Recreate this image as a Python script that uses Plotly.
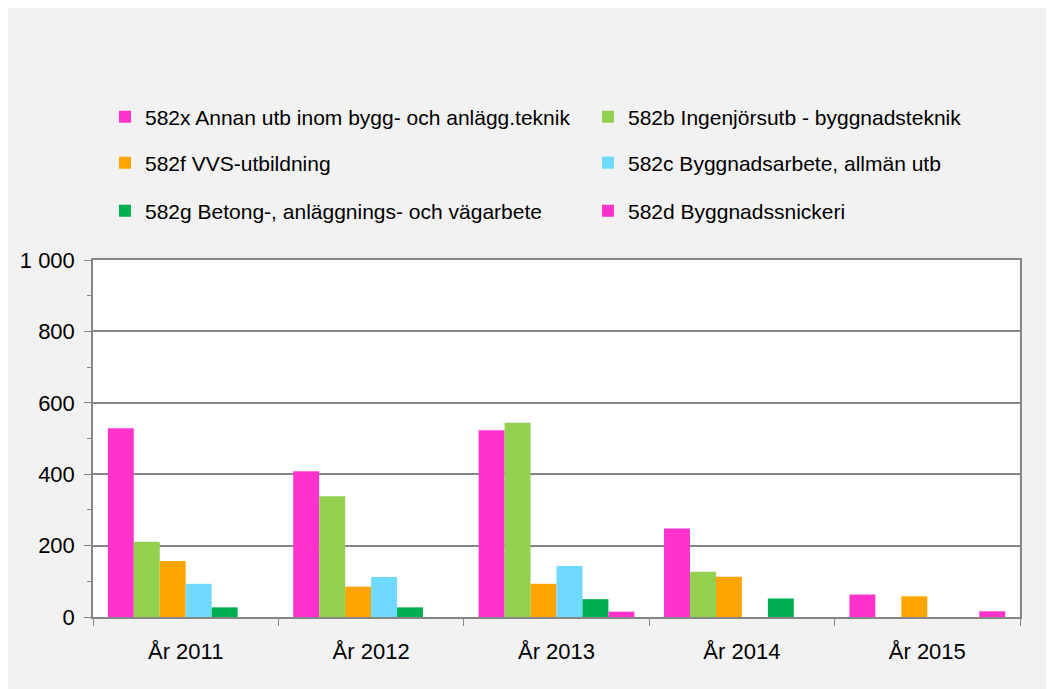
import plotly.graph_objects as go

categories = ["År 2011", "År 2012", "År 2013", "År 2014", "År 2015"]
series_names = [
    "582x Annan utb inom bygg- och anlägg.teknik",
    "582b Ingenjörsutb - byggnadsteknik",
    "582f VVS-utbildning",
    "582c Byggnadsarbete, allmän utb",
    "582g Betong-, anläggnings- och vägarbete",
    "582d Byggnadssnickeri",
]
v_582x = [529, 408, 523, 248, 63]
v_582b = [211, 338, 544, 127, 0]
v_582f = [157, 85, 93, 113, 58]
v_582c = [93, 112, 143, 0, 0]
v_582g = [27, 27, 50, 52, 0]
v_582d = [0, 0, 15, 0, 16]
values = [v_582x, v_582b, v_582f, v_582c, v_582g, v_582d]
colors = ["#FF33CC", "#92D050", "#FFA500", "#6FD9FF", "#00B050", "#FF33CC"]
legend_ids = ["legend", "legend2", "legend3", "legend4", "legend5", "legend6"]

FONT = "Liberation Sans, Arial, sans-serif"

fig = go.Figure()
for name, vals, col, lg in zip(series_names, values, colors, legend_ids):
    fig.add_trace(go.Bar(x=categories, y=vals, name=name, marker_color=col,
                         marker_line_width=0, legend=lg, showlegend=True))

W, H = 1054, 689
L, R, T, B = 85, 42, 252, 80
pw, ph = W - L - R, H - T - B

def px_x(p):
    return (p - L) / pw

def px_y(p):
    return (H - B - p) / ph

leg_common = dict(orientation="h", xanchor="left", yanchor="middle",
                  font=dict(family=FONT, size=21, color="#000000"),
                  bgcolor="rgba(0,0,0,0)", visible=True)

col_x = [97, 580]
row_y = [109, 155, 203]
legends = {}
for i, lg in enumerate(legend_ids):
    legends[lg] = dict(x=px_x(col_x[i % 2]), y=px_y(row_y[i // 2]), **leg_common)

fig.update_layout(
    width=W, height=H, autosize=False,
    margin=dict(l=L, r=R, t=T, b=B),
    paper_bgcolor="#F2F2F2",
    plot_bgcolor="white",
    separators=", ",
    barmode="group",
    bargap=0.16,
    bargroupgap=0,
    showlegend=True,
    font=dict(family=FONT, size=21, color="#000000"),
    **legends,
)

fig.update_xaxes(
    tickson="boundaries", ticks="outside", ticklen=7, tickcolor="#868686",
    showline=True, linecolor="#868686", linewidth=1.5, mirror=True,
    tickfont=dict(family=FONT, size=22, color="#000000"),
    ticklabelstandoff=14,
    showgrid=False,
)
fig.update_yaxes(
    range=[0, 1000], dtick=200, tickformat=",d",
    ticks="outside", ticklen=7, tickcolor="#868686",
    minor=dict(dtick=100, ticks="outside", ticklen=4, tickcolor="#868686", showgrid=False),
    showline=True, linecolor="#868686", linewidth=1.5, mirror=True,
    showgrid=True, gridcolor="#868686", gridwidth=1.5,
    zeroline=False,
    ticklabelstandoff=5,
    tickfont=dict(family=FONT, size=22, color="#000000"),
)

fig.write_html("out.html")
